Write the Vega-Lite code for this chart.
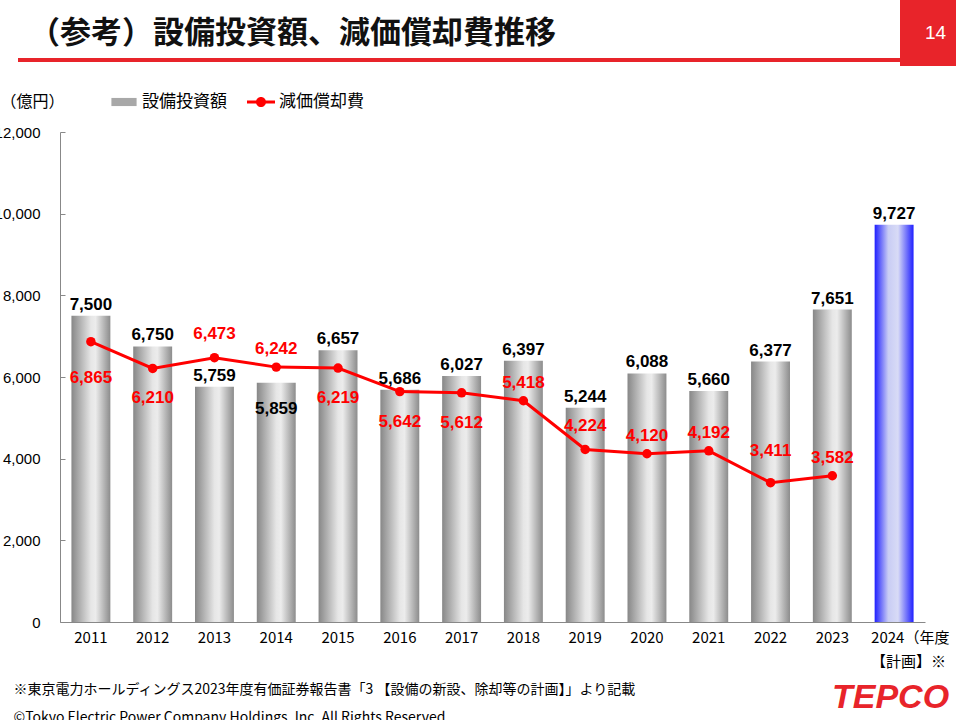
{
  "$schema": "https://vega.github.io/schema/vega-lite/v6.json",
  "autosize": "none",
  "width": 865,
  "height": 490,
  "padding": {"left": 60, "top": 132, "right": 31, "bottom": 98},
  "background": "white",
  "config": {
    "view": {"stroke": null},
    "font": "Noto Sans CJK JP",
    "text": {"font": "Liberation Sans", "fontSize": 17, "fontWeight": "bold", "align": "center", "baseline": "alphabetic"}
  },
  "title": {
    "text": "（参考）設備投資額、減価償却費推移",
    "anchor": "start",
    "frame": "group",
    "font": "Noto Sans CJK JP",
    "fontSize": 31,
    "fontWeight": "bold",
    "color": "#111111",
    "dx": -31,
    "offset": -50
  },
  "data": {
    "values": [
      {"year": "2011", "capex": 7500, "dep": 6865},
      {"year": "2012", "capex": 6750, "dep": 6210},
      {"year": "2013", "capex": 5759, "dep": 6473},
      {"year": "2014", "capex": 5859, "dep": 6242},
      {"year": "2015", "capex": 6657, "dep": 6219},
      {"year": "2016", "capex": 5686, "dep": 5642},
      {"year": "2017", "capex": 6027, "dep": 5612},
      {"year": "2018", "capex": 6397, "dep": 5418},
      {"year": "2019", "capex": 5244, "dep": 4224},
      {"year": "2020", "capex": 6088, "dep": 4120},
      {"year": "2021", "capex": 5660, "dep": 4192},
      {"year": "2022", "capex": 6377, "dep": 3411},
      {"year": "2023", "capex": 7651, "dep": 3582},
      {"year": "2024", "capex": 9727, "dep": null}
    ]
  },
  "encoding": {
    "x": {
      "field": "year",
      "type": "nominal",
      "sort": null,
      "scale": {"paddingInner": 0.37, "paddingOuter": 0.185},
      "axis": {
        "title": [
          "※東京電力ホールディングス2023年度有価証券報告書「3 【設備の新設、除却等の計画】」より記載",
          "©Tokyo Electric Power Company Holdings, Inc. All Rights Reserved."
        ],
        "titleX": -47,
        "titleY": 60,
        "titleAlign": "left",
        "titleBaseline": "top",
        "titleAnchor": "start",
        "titleFont": "Noto Sans CJK JP",
        "titleFontSize": 14,
        "titleFontWeight": "normal",
        "titleColor": "#000000",
        "titleLineHeight": 28,
        "labelAngle": 0,
        "labelFont": "Noto Sans CJK JP",
        "labelFontSize": 15,
        "labelColor": "#000000",
        "labelPadding": 8,
        "labelBaseline": "top",
        "labelLineHeight": 24,
        "labelExpr": "datum.value == '2024' ? ['2024（年度', '【計画】※'] : datum.value",
        "labelAlign": {"condition": {"test": "datum.value == '2024'", "value": "left"}, "value": "center"},
        "labelOffset": {"condition": {"test": "datum.value == '2024'", "value": -23}, "value": 0},
        "ticks": false,
        "domainColor": "#888888",
        "grid": false
      }
    }
  },
  "layer": [
    {
      "transform": [{"filter": "datum.year != '2024'"}],
      "mark": {
        "type": "bar",
        "color": {
          "gradient": "linear", "x1": 0, "x2": 1, "y1": 0, "y2": 0,
          "stops": [
            {"offset": 0, "color": "#878787"},
            {"offset": 0.5, "color": "#e6e6e6"},
            {"offset": 0.62, "color": "#ececec"},
            {"offset": 1, "color": "#8c8c8c"}
          ]
        }
      },
      "encoding": {
        "y": {
          "field": "capex",
          "type": "quantitative",
          "scale": {"domain": [0, 12000]},
          "axis": {
            "values": [0, 2000, 4000, 6000, 8000, 10000, 12000],
            "format": ",d",
            "title": "（億円）",
            "titleAngle": 0,
            "titleX": -60,
            "titleY": -31,
            "titleAlign": "left",
            "titleBaseline": "middle",
            "titleFont": "Noto Sans CJK JP",
            "titleFontSize": 16,
            "titleFontWeight": "normal",
            "titleColor": "#000000",
            "labelFont": "Liberation Sans",
            "labelFontSize": 15,
            "labelColor": "#000000",
            "tickSize": -5,
            "labelPadding": 25,
            "tickColor": "#888888",
            "domainColor": "#888888",
            "grid": false
          }
        }
      }
    },
    {
      "transform": [{"filter": "datum.year == '2024'"}],
      "mark": {
        "type": "bar",
        "color": {
          "gradient": "linear", "x1": 0, "x2": 1, "y1": 0, "y2": 0,
          "stops": [
            {"offset": 0, "color": "#1f1fff"},
            {"offset": 0.35, "color": "#c8ccf4"},
            {"offset": 0.6, "color": "#d8dbf6"},
            {"offset": 1, "color": "#1f1fff"}
          ]
        }
      },
      "encoding": {"y": {"field": "capex", "type": "quantitative"}}
    },
    {
      "mark": {"type": "line", "strokeWidth": 3, "point": {"filled": true, "size": 90}},
      "encoding": {
        "y": {"field": "dep", "type": "quantitative"},
        "color": {
          "datum": "減価償却費",
          "type": "nominal",
          "scale": {"domain": ["設備投資額", "減価償却費"], "range": ["#a8a8a8", "#ff0000"]},
          "legend": {
            "orient": "none",
            "legendX": 50,
            "legendY": -44,
            "direction": "horizontal",
            "title": null,
            "padding": 0,
            "symbolSize": 784,
            "symbolStrokeWidth": 0,
            "labelFont": "Noto Sans CJK JP",
            "labelFontSize": 17,
            "labelColor": "#000000",
            "labelOffset": 4,
            "columnPadding": 20,
            "encode": {
              "symbols": {
                "update": {
                  "shape": {"signal": "datum.value === '設備投資額' ? 'M-0.9,-0.29H0.9V0.29H-0.9Z' : 'M-1,-0.1H1V0.1H-1Z M0.36,0A0.36,0.36,0,1,1,-0.36,0A0.36,0.36,0,1,1,0.36,0Z'"},
                  "fill": [
                    {
                      "test": "datum.value === '設備投資額'",
                      "value": {
                        "gradient": "linear", "x1": 0, "x2": 1, "y1": 0, "y2": 0,
                        "stops": [
                          {"offset": 0, "color": "#7a7a7a"},
                          {"offset": 0.6, "color": "#e4e4e4"},
                          {"offset": 1, "color": "#9a9a9a"}
                        ]
                      }
                    },
                    {"value": "#ff0000"}
                  ],
                  "stroke": {"value": "transparent"},
                  "opacity": {"value": 1},
                  "size": {"value": 784}
                }
              }
            }
          }
        }
      }
    },
    {
      "mark": {"type": "point", "opacity": 0, "filled": true},
      "encoding": {
        "y": {"field": "capex", "type": "quantitative"},
        "color": {"datum": "設備投資額", "type": "nominal"}
      }
    },
    {
      "mark": {"type": "point", "opacity": 0, "filled": true},
      "encoding": {
        "y": {"field": "capex", "type": "quantitative"},
        "shape": {
          "datum": "14",
          "type": "nominal",
          "legend": {
            "orient": "none",
            "legendX": 840,
            "legendY": -132,
            "title": null,
            "padding": 23,
            "fillColor": "#e8242a",
            "strokeColor": null,
            "symbolSize": 1,
            "symbolOpacity": 0,
            "labelOffset": -17,
            "labelFont": "Liberation Sans",
            "labelFontSize": 19,
            "labelColor": "#ffffff"
          }
        }
      }
    },
    {
      "mark": {"type": "point", "opacity": 0, "filled": true},
      "encoding": {
        "y": {"field": "capex", "type": "quantitative"},
        "size": {
          "datum": "TEPCO",
          "type": "nominal",
          "legend": {
            "orient": "none",
            "legendX": 772,
            "legendY": 549,
            "title": "TEPCO",
            "titleFont": "Liberation Sans",
            "titleFontSize": 34,
            "titleFontStyle": "italic",
            "titleFontWeight": 900,
            "titleColor": "#e8242a",
            "titleBaseline": "top",
            "padding": 0,
            "symbolOpacity": 0,
            "labelExpr": "''"
          }
        }
      }
    },
    {
      "mark": {"type": "point", "opacity": 0, "filled": true},
      "encoding": {
        "y": {"field": "capex", "type": "quantitative"},
        "fill": {
          "datum": 1,
          "type": "quantitative",
          "scale": {"domain": [0, 1], "range": ["#e8242a", "#e8242a"]},
          "legend": {
            "orient": "none",
            "direction": "horizontal",
            "legendX": -42,
            "legendY": -74,
            "title": null,
            "padding": 0,
            "labelOpacity": 0,
            "labelFontSize": 1,
            "tickCount": 2,
            "gradientLength": 883,
            "gradientThickness": 4,
            "gradientStrokeWidth": 0
          }
        }
      }
    },
    {
      "transform": [{"filter": "datum.year != '2014'"}],
      "mark": {"type": "text", "dy": -6, "color": "#000000"},
      "encoding": {
        "y": {"field": "capex", "type": "quantitative"},
        "text": {"field": "capex", "type": "quantitative", "format": ",d"}
      }
    },
    {
      "transform": [{"filter": "datum.year == '2014'"}],
      "mark": {"type": "text", "dy": 31, "color": "#000000"},
      "encoding": {
        "y": {"field": "capex", "type": "quantitative"},
        "text": {"field": "capex", "type": "quantitative", "format": ",d"}
      }
    },
    {
      "transform": [{"filter": {"field": "year", "oneOf": ["2014", "2018", "2020", "2021", "2023"]}}],
      "mark": {"type": "text", "dy": -13, "color": "#ff0000"},
      "encoding": {
        "y": {"field": "dep", "type": "quantitative"},
        "text": {"field": "dep", "type": "quantitative", "format": ",d"}
      }
    },
    {
      "transform": [{"filter": {"field": "year", "oneOf": ["2013", "2019"]}}],
      "mark": {"type": "text", "dy": -19, "color": "#ff0000"},
      "encoding": {
        "y": {"field": "dep", "type": "quantitative"},
        "text": {"field": "dep", "type": "quantitative", "format": ",d"}
      }
    },
    {
      "transform": [{"filter": {"field": "year", "oneOf": ["2022"]}}],
      "mark": {"type": "text", "dy": -27, "color": "#ff0000"},
      "encoding": {
        "y": {"field": "dep", "type": "quantitative"},
        "text": {"field": "dep", "type": "quantitative", "format": ",d"}
      }
    },
    {
      "transform": [{"filter": {"field": "year", "oneOf": ["2012", "2015", "2016", "2017"]}}],
      "mark": {"type": "text", "dy": 35, "color": "#ff0000"},
      "encoding": {
        "y": {"field": "dep", "type": "quantitative"},
        "text": {"field": "dep", "type": "quantitative", "format": ",d"}
      }
    },
    {
      "transform": [{"filter": {"field": "year", "oneOf": ["2011"]}}],
      "mark": {"type": "text", "dy": 41, "color": "#ff0000"},
      "encoding": {
        "y": {"field": "dep", "type": "quantitative"},
        "text": {"field": "dep", "type": "quantitative", "format": ",d"}
      }
    }
  ]
}
